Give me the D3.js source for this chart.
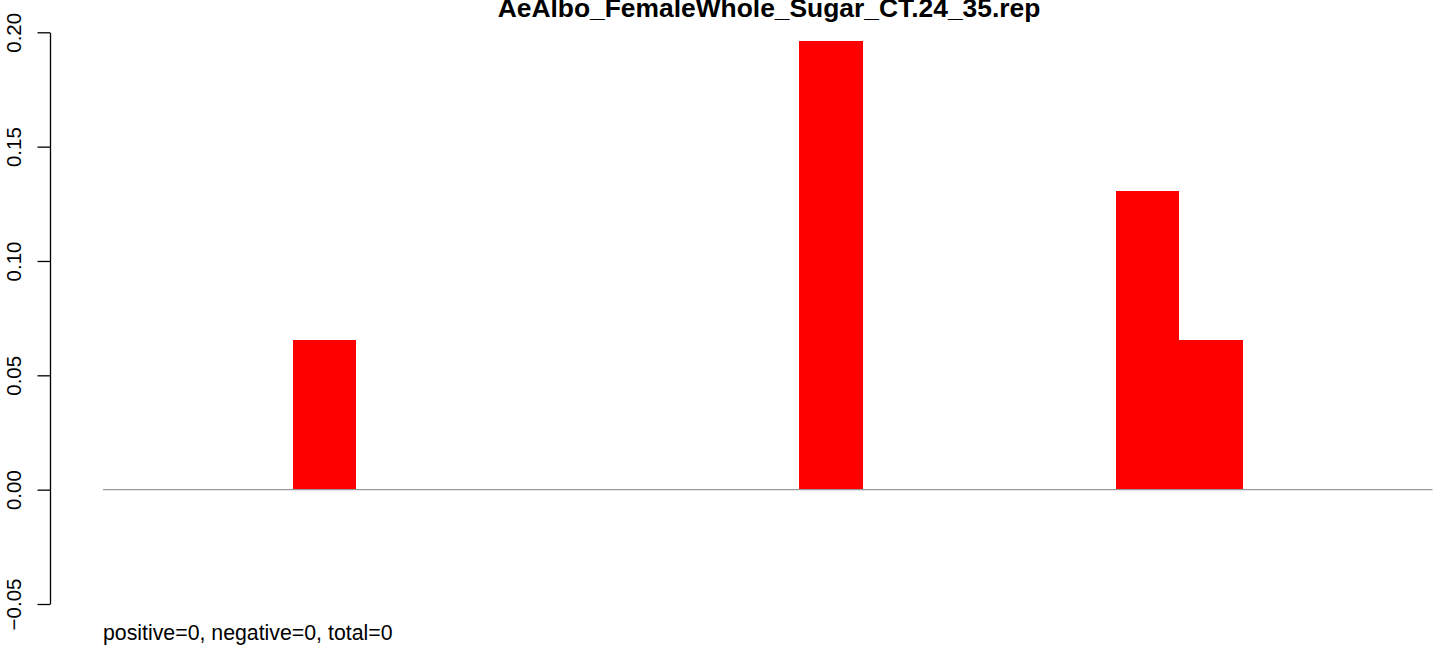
<!DOCTYPE html>
<html>
<head>
<meta charset="utf-8">
<script src="https://cdn.jsdelivr.net/npm/d3@7"></script>
<style>
  html, body { margin: 0; padding: 0; background: #fff; }
  svg { display: block; }
  text { font-family: "Liberation Sans", Arial, Helvetica, sans-serif; }
</style>
</head>
<body>
<svg id="chart" width="1444" height="645"></svg>
<script>
// ---- data ----
const titleText = "AeAlbo_FemaleWhole_Sugar_CT.24_35.rep";
const footerText = "positive=0, negative=0, total=0";
const categories = d3.range(1, 22).map(String); // 21 bins
const values = [0, 0, 0, 0.0654, 0, 0, 0, 0, 0, 0, 0, 0.1961, 0, 0, 0, 0, 0.1307, 0.0654, 0, 0, 0];
const yTicks = [-0.05, 0.00, 0.05, 0.10, 0.15, 0.20];
const yTickLabels = ["\u22120.05", "0.00", "0.05", "0.10", "0.15", "0.20"];

// ---- layout ----
const svg = d3.select("#chart");
const x = d3.scaleBand().domain(categories).range([103, 1432.5]).paddingInner(0).paddingOuter(0);
const y = d3.scaleLinear().domain([-0.05, 0.20]).range([604, 32.3]);

// bars
svg.append("g").selectAll("rect")
  .data(values.map((v, i) => ({ c: categories[i], v })).filter(d => d.v > 0))
  .join("rect")
  .attr("x", d => x(d.c))
  .attr("width", x.bandwidth())
  .attr("y", d => y(d.v))
  .attr("height", d => y(0) - y(d.v))
  .attr("fill", "#ff0000")
  .attr("shape-rendering", "crispEdges");

// baseline
svg.append("line")
  .attr("x1", x.range()[0]).attr("x2", x.range()[1])
  .attr("y1", y(0)).attr("y2", y(0))
  .attr("stroke", "#999999").attr("stroke-width", 1.3);

// y axis
const axis = d3.axisLeft(y)
  .tickValues(yTicks)
  .tickSize(12.5)
  .tickSizeOuter(0)
  .tickFormat((d, i) => yTickLabels[i]);
const gAxis = svg.append("g")
  .attr("transform", "translate(50,0)")
  .call(axis);
gAxis.select(".domain").attr("stroke", "#000").attr("stroke-width", 1.3);
gAxis.selectAll(".tick line").attr("stroke", "#000").attr("stroke-width", 1.3);
gAxis.selectAll(".tick text")
  .attr("font-family", "'Liberation Sans', Arial, sans-serif")
  .attr("font-size", 20.5)
  .attr("fill", "#000")
  .attr("text-anchor", "middle")
  .attr("dy", 0)
  .attr("x", 0)
  .attr("transform", "translate(-29,0) rotate(-90)");

// title (clipped at the top edge, as in the reference)
svg.append("text")
  .attr("x", 769).attr("y", 17)
  .attr("text-anchor", "middle")
  .attr("font-weight", "bold")
  .attr("font-size", 26.4)
  .attr("fill", "#000")
  .text(titleText);

// footer
svg.append("text")
  .attr("x", 103).attr("y", 640)
  .attr("font-size", 21.3)
  .attr("fill", "#000")
  .text(footerText);
</script>
</body>
</html>
